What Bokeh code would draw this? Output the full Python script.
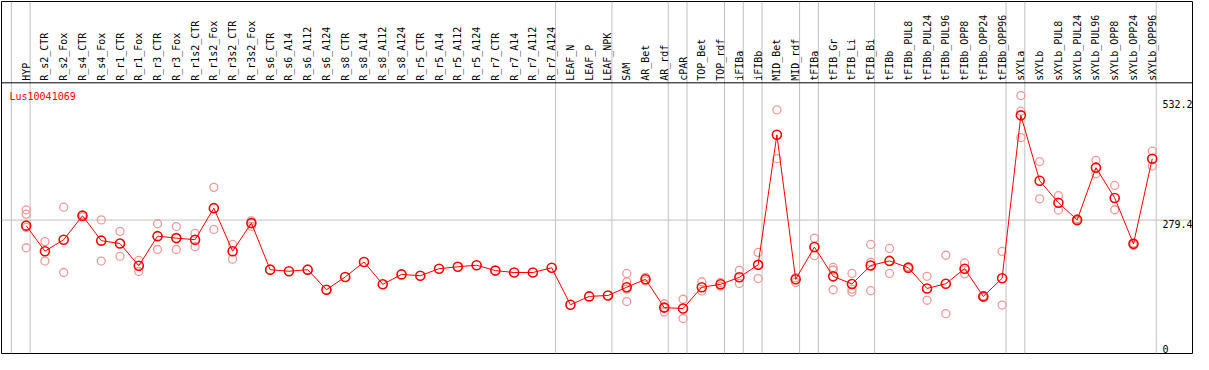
from math import pi
from bokeh.plotting import figure
from bokeh.models import Range1d, Span
from bokeh.core.properties import value
from bokeh.embed import file_html
from bokeh.resources import INLINE

title = "Lus10041069"

categories = [
    "HYP", "R_s2_CTR", "R_s2_Fox", "R_s4_CTR", "R_s4_Fox", "R_r1_CTR", "R_r1_Fox",
    "R_r3_CTR", "R_r3_Fox", "R_r1s2_CTR", "R_r1s2_Fox", "R_r3s2_CTR", "R_r3s2_Fox",
    "R_s6_CTR", "R_s6_A14", "R_s6_A112", "R_s6_A124", "R_s8_CTR", "R_s8_A14",
    "R_s8_A112", "R_s8_A124", "R_r5_CTR", "R_r5_A14", "R_r5_A112", "R_r5_A124",
    "R_r7_CTR", "R_r7_A14", "R_r7_A112", "R_r7_A124", "LEAF_N", "LEAF_P", "LEAF_NPK",
    "SAM", "AR_Bet", "AR_rdf", "cPAR", "TOP_Bet", "TOP_rdf", "iFIBa", "iFIBb",
    "MID_Bet", "MID_rdf", "tFIBa", "tFIB_Gr", "tFIB_Li", "tFIB_Bi", "tFIBb",
    "tFIBb_PUL8", "tFIBb_PUL24", "tFIBb_PUL96", "tFIBb_OPP8", "tFIBb_OPP24",
    "tFIBb_OPP96", "sXYLa", "sXYLb", "sXYLb_PUL8", "sXYLb_PUL24", "sXYLb_PUL96",
    "sXYLb_OPP8", "sXYLb_OPP24", "sXYLb_OPP96",
]

# number of consecutive categories in each sample group (separated by grey lines)
group_sizes = [1, 28, 3, 3, 1, 2, 1, 1, 2, 1, 3, 7, 1, 7]

means = [
    267.7, 213.8, 238.0, 288.5, 236.0, 230.0, 183.0, 245.5, 241.4, 238.0, 304.6,
    213.8, 273.0, 174.8, 171.5, 174.8, 132.5, 159.4, 191.0, 143.9, 164.8, 162.0,
    176.9, 180.9, 184.2, 172.8, 168.8, 168.8, 178.9, 100.9, 118.4, 120.4, 137.8,
    154.6, 94.8, 92.8, 137.8, 143.9, 158.7, 185.0, 459.3, 154.6, 222.5, 160.7,
    144.6, 183.6, 193.3, 178.9, 135.2, 145.2, 176.9, 118.4, 156.7, 500.3, 362.5,
    316.0, 279.8, 390.0, 326.1, 229.3, 408.9,
]

replicates = [
    [301.0, 292.0, 264.0, 221.0], [234.0, 193.0], [306.6, 168.8], [291.0, 286.0],
    [279.8, 193.0], [255.6, 203.0], [194.3, 170.9], [271.7, 217.3], [265.7, 217.3],
    [251.5, 223.3], [348.4, 259.6], [228.0, 197.0], [277.8, 266.3],
    [], [], [], [], [], [], [], [], [], [], [], [], [], [], [], [], [], [], [],
    [166.8, 149.3, 133.8, 107.5], [158.7, 151.0], [102.9, 85.3, 95.0], [112.4, 71.8],
    [149.3, 129.7], [147.9, 140.0], [173.5, 145.9], [211.2, 156.0], [511.8, 408.9],
    [158.0, 148.0], [241.4, 204.4], [179.5, 174.1, 132.5], [166.8, 133.8, 127.7],
    [228.0, 190.2, 130.5], [219.6, 166.8], [181.0, 177.0], [160.8, 110.3],
    [205.2, 82.1], [189.0, 166.0], [120.0, 116.5], [213.2, 100.2],
    [542.0, 509.0, 453.3], [402.8, 324.2], [330.8, 300.6], [282.0, 277.5],
    [405.5, 377.2], [352.4, 301.2], [231.0, 226.0], [425.0, 393.4],
]

tick_values = [0, 279.4, 532.2]
tick_labels = ["0", "279.4", "532.2"]
grid_values = [279.4]

# ---- layout (data-space frame extents) ----
X_START, X_END = -1.314, 62.145
Y_START, Y_END = -2.0, 740.4
HEADER_Y = 568.9      # black line separating header labels from plot
LABEL_Y = 573.0       # bottom anchor of the rotated category labels
TITLE_Y = 552.5
FONT = value("DejaVu Sans Mono")

xs = list(range(len(categories)))

p = figure(width=1193, height=354, output_backend="svg", toolbar_location=None,
           x_range=Range1d(X_START, X_END), y_range=Range1d(Y_START, Y_END),
           min_border_left=1, min_border_right=1, min_border_top=1, min_border_bottom=1)
p.axis.visible = False
p.grid.visible = False
p.outline_line_color = "black"
p.outline_line_width = 1
p.background_fill_color = "white"
p.border_fill_color = "white"

# group separators
bounds = [-1]
acc = -1
for g in group_sizes:
    acc += g
    bounds.append(acc)
for b in bounds:
    p.add_layout(Span(location=b + 0.21, dimension="height", line_color="#c0c0c0",
                      line_width=1, level="underlay"))

for g in grid_values:
    p.add_layout(Span(location=g, dimension="width", line_color="#c0c0c0",
                      line_width=1, level="underlay"))

p.add_layout(Span(location=HEADER_Y, dimension="width", line_color="black",
                  line_width=1, level="underlay"))

# replicate points
rx, ry = [], []
for i, reps in enumerate(replicates):
    for r in reps:
        rx.append(i)
        ry.append(r)
p.scatter(rx, ry, marker="circle", size=8, fill_color=None,
          line_color="#f09a9a", line_width=1.3)

# mean line and points
p.line(xs, means, line_color="red", line_width=1)
p.scatter(xs, means, marker="circle", size=9, fill_color=None,
          line_color="red", line_width=1.6)

# category labels
p.text(xs, [LABEL_Y] * len(xs), text=categories, angle=pi / 2, text_align="left",
       text_baseline="middle", text_font=FONT, text_font_size="10px", text_color="black")

# value labels on the right
top_vals = [v for v in tick_values if v > 0]
top_labs = [l for v, l in zip(tick_values, tick_labels) if v > 0]
p.text([X_END] * len(top_vals), top_vals, text=top_labs, x_offset=-30,
       text_align="left", text_baseline="top", text_font=FONT,
       text_font_size="10px", text_color="black")
zero_vals = [v for v in tick_values if v == 0]
zero_labs = [l for v, l in zip(tick_values, tick_labels) if v == 0]
p.text([X_END] * len(zero_vals), zero_vals, text=zero_labs, x_offset=-30,
       text_align="left", text_baseline="bottom", text_font=FONT,
       text_font_size="10px", text_color="black")

# gene title
p.text([X_START], [TITLE_Y], text=[title], x_offset=8, text_align="left",
       text_baseline="top", text_font=FONT, text_font_size="10px", text_color="red")

open("out.html", "w").write(file_html(p, INLINE))
